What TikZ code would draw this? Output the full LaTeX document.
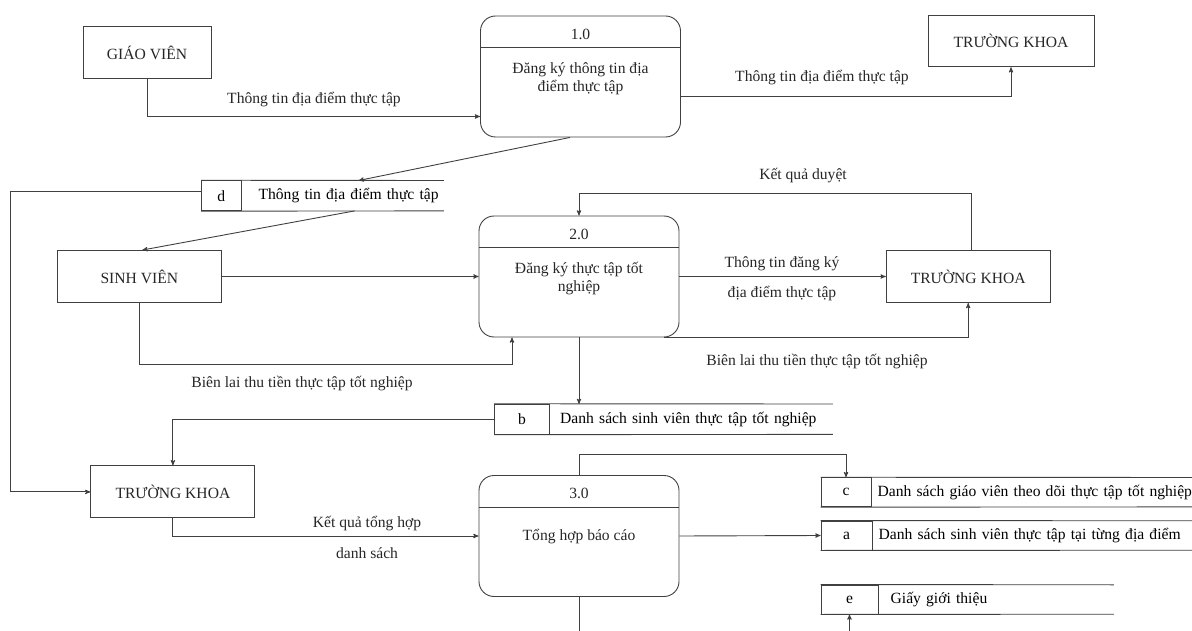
\documentclass[tikz,border=0pt]{standalone}
\usepackage{fontspec}
\setmainfont{Liberation Serif}
\usepackage{tikz}
\usetikzlibrary{positioning, arrows}

\begin{document}
\begin{tikzpicture}[x=1pt, y=-1pt, >=stealth',
		font=\fontsize{15.6}{18}\selectfont,
		entity/.style={
			rectangle,
			draw=black!75, line width=0.9pt,
			minimum width=164,
			minimum height=52,
			text=black!85},
		process/.style={
			rectangle,
			rounded corners=15,
			draw=black!75, line width=0.9pt,
			minimum width=200,
			minimum height=121},
		storeid/.style={rectangle, draw=black!75, line width=0.9pt, minimum height=30, inner sep=0},
		storetext/.style 2 args={minimum height=30, inner sep=0, text width=#1, align=left,
			execute at begin node={\hspace*{#2}}},
		flowtext/.style={text=black!85},
		wire/.style={line width=0.9pt, draw=black!75},
		arrow/.style={line width=0.9pt, draw=black!75, ->}]
		\useasboundingbox (0,0) rectangle (1192,631);
		% externe Einheiten
		\node[entity, minimum width=128] (gv) at (147,52.7) {GIÁO VIÊN};
		\node[entity, minimum width=166, minimum height=51] (tk1) at (1011,41.3) {TRƯỜNG KHOA};
		\node[entity] (sv) at (139.3,276.5) {SINH VIÊN};
		\node[entity] (tk2) at (968.2,276.5) {TRƯỜNG KHOA};
		\node[entity] (tk3) at (172.9,491.9) {TRƯỜNG KHOA};
		% Prozesse
		\node[process] (p1) at (580.5,76.5) {};
		\node[flowtext] (p1id) at (580.5,34) {1.0};
		\node[flowtext, align=center] (p1txt) at (580.5,79) {Đăng ký thông tin địa\\điểm thực tập};
		\draw[wire] (p1.west |- 0,47) -- (p1.east |- 0,47);
		\node[process] (p2) at (579,276.5) {};
		\node[flowtext] (p2id) at (579,234) {2.0};
		\node[flowtext, align=center] (p2txt) at (579,279) {Đăng ký thực tập tốt\\nghiệp};
		\draw[wire] (p2.west |- 0,247.7) -- (p2.east |- 0,247.7);
		\node[process] (p3) at (579,536) {};
		\node[flowtext] (p3id) at (579,493.7) {3.0};
		\node[flowtext] (p3txt) at (579,537) {Tổng hợp báo cáo};
		\draw[wire] (p3.west |- 0,507) -- (p3.east |- 0,507);
		% Datenspeicher
		\node[storeid, minimum width=39.3] (did) at (221.3,195.7) {d};
		\node[storetext={202}{17pt}, right=0pt of did] (dtext) {Thông tin địa điểm thực tập};
		\draw[wire] (did.north west) -- (dtext.north east);
		\draw[wire] (did.south west) -- (dtext.south east);
		\node[storeid, minimum width=55.1] (bid) at (522,419.2) {b};
		\node[storetext={282.4}{10pt}, right=0pt of bid] (btext) {Danh sách sinh viên thực tập tốt nghiệp};
		\draw[wire] (bid.north west) -- (btext.north east);
		\draw[wire] (bid.south west) -- (btext.south east);
		\node[storeid, minimum width=50, minimum height=29] (cid) at (846,492.2) {c};
		\node[storetext={340}{6pt}, minimum height=29, right=0pt of cid] (ctext) {Danh sách giáo viên theo dõi thực tập tốt nghiệp};
		\draw[wire] (cid.north west) -- (ctext.north east);
		\draw[wire] (cid.south west) -- (ctext.south east);
		\node[storeid, minimum width=51, minimum height=29] (aid) at (846.5,535.5) {a};
		\node[storetext={340}{6pt}, minimum height=29, right=0pt of aid] (atext) {Danh sách sinh viên thực tập tại từng địa điểm};
		\draw[wire] (aid.north west) -- (atext.north east);
		\draw[wire] (aid.south west) -- (atext.south east);
		\node[storeid, minimum width=57, minimum height=29] (eid) at (849.5,599.5) {e};
		\node[storetext={235}{12pt}, minimum height=29, right=0pt of eid] (etext) {Giấy giới thiệu};
		\draw[wire] (eid.north west) -- (etext.north east);
		\draw[wire] (eid.south west) -- (etext.south east);
		% Datenfluesse
		\draw[arrow] (gv.south) |- (p1.west |- 0,116.5);
		\node[flowtext] (l1) at (314,100) {Thông tin địa điểm thực tập};
		\draw[arrow] (p1.east |- 0,96) -| (tk1.south);
		\node[flowtext] (l2) at (822,78) {Thông tin địa điểm thực tập};
		\draw[arrow] ([xshift=-10.5]p1.south) -- ([xshift=16]dtext.north);
		\draw[arrow] ([yshift=4]did.west) -- ++(-190.6,0) |- (tk3.west);
		\draw[arrow] ([xshift=12]dtext.south) -- ([xshift=3]sv.north);
		\draw[arrow] (sv.east) -- (p2.west);
		\draw[arrow] ([xshift=3]tk2.north) -- ++(0,-56.4) -| (p2.north);
		\node[flowtext] (l3) at (803,175.7) {Kết quả duyệt};
		\draw[arrow] (p2.east) -- (tk2.west);
		\node[flowtext] (l4) at (782,263.3) {Thông tin đăng ký};
		\node[flowtext] (l5) at (782,293.3) {địa điểm thực tập};
		\draw[arrow] ([xshift=-15]p2.south east) -| (tk2.south);
		\node[flowtext] (l6) at (817,361.7) {Biên lai thu tiền thực tập tốt nghiệp};
		\draw[arrow] (sv.south) -- ++(0,61) -| ([xshift=-67]p2.south);
		\node[flowtext] (l7) at (302,383.3) {Biên lai thu tiền thực tập tốt nghiệp};
		\draw[arrow] (p2.south) -- (p2.south |- btext.north);
		\draw[arrow] (bid.west) -| (tk3.north);
		\draw[arrow] (tk3.south) |- (p3.west);
		\node[flowtext] (l8) at (367,524) {Kết quả tổng hợp};
		\node[flowtext] (l9) at (367,553) {danh sách};
		\draw[arrow] (p3.north) -- ++(0,-21) -| (cid.north);
		\draw[arrow] (p3.east) -- (aid.west);
		\draw[wire] (p3.south) -- ++(0,35);
		\coordinate (ein) at (849.5,631);
		\draw[arrow] (ein) -- (eid.south);
\end{tikzpicture}
\end{document}
